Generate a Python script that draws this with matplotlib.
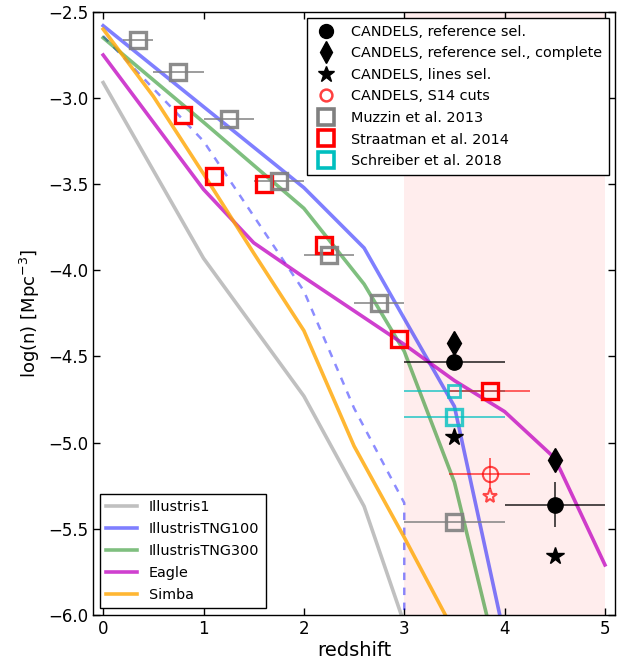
import matplotlib
matplotlib.use("Agg")
import matplotlib.pyplot as plt
from matplotlib.lines import Line2D

# --- simulation number densities (log n [Mpc^-3]) vs redshift ---
z_ill1 = [0, 1, 2, 2.6, 3]
n_ill1 = [-2.91, -3.93, -4.73, -5.37, -6.05]

z_tng100 = [0, 1, 2, 2.6, 3, 3.5, 4]
n_tng100 = [-2.58, -3.05, -3.52, -3.87, -4.28, -4.79, -6.13]

z_tng100_alt = [0, 1, 2, 2.5, 3, 3]
n_tng100_alt = [-2.64, -3.25, -4.12, -4.80, -5.35, -6.05]

z_tng300 = [0, 1, 2, 2.6, 3, 3.5, 4]
n_tng300 = [-2.65, -3.14, -3.64, -4.08, -4.47, -5.23, -6.43]

z_eagle = [0, 1, 1.5, 2, 3, 3.5, 4, 4.5, 5]
n_eagle = [-2.75, -3.53, -3.84, -4.04, -4.43, -4.64, -4.82, -5.09, -5.71]

z_simba = [0, 0.5, 1, 1.5, 2, 2.5, 3, 3.5]
n_simba = [-2.60, -2.99, -3.44, -3.90, -4.35, -5.02, -5.55, -6.10]

# --- observations ---
z_muzzin = [0.35, 0.75, 1.25, 1.75, 2.25, 2.75, 3.5]
n_muzzin = [-2.66, -2.85, -3.12, -3.48, -3.91, -4.19, -5.46]
zerr_muzzin = [0.15, 0.25, 0.25, 0.25, 0.25, 0.25, 0.5]

z_straat = [0.8, 1.1, 1.6, 2.2, 2.95]
n_straat = [-3.10, -3.45, -3.50, -3.85, -4.40]
z_straat_hi = [3.85]
n_straat_hi = [-4.70]
zerr_straat_hi = [0.4]

z_schr_a = [3.5]
n_schr_a = [-4.70]
z_schr_b = [3.5]
n_schr_b = [-4.85]
zerr_schr = [0.5]

z_cand = [3.5, 4.5]
n_cand_ref = [-4.53, -5.36]
zerr_cand = [0.5, 0.5]
nerr_cand_ref = [0.0, 0.13]
n_cand_complete = [-4.42, -5.10]
n_cand_lines = [-4.97, -5.66]

z_s14 = [3.85]
n_s14 = [-5.18]
zerr_s14 = [0.4]
nerr_s14 = [0.09]
n_s14_lines = [-5.31]

plt.rcParams["font.family"] = "DejaVu Sans"
fig = plt.figure(figsize=(6.25, 6.64), dpi=100)
ax = fig.add_axes([0.149, 0.074, 0.835, 0.908])

ax.axvspan(3, 5, color="red", alpha=0.07, lw=0)

lw = 2.6
h_ill1, = ax.plot(z_ill1, n_ill1, color="#c0c0c0", lw=lw, label="Illustris1")
h_tng100, = ax.plot(z_tng100, n_tng100, color="blue", alpha=0.5, lw=lw, label="IllustrisTNG100")
ax.plot(z_tng100_alt, n_tng100_alt, color="blue", alpha=0.45, lw=1.8, ls=(0, (3, 3)))
h_tng300, = ax.plot(z_tng300, n_tng300, color="green", alpha=0.5, lw=lw, label="IllustrisTNG300")
h_eagle, = ax.plot(z_eagle, n_eagle, color="m", alpha=0.75, lw=lw, label="Eagle")
h_simba, = ax.plot(z_simba, n_simba, color="orange", alpha=0.8, lw=lw, label="Simba")

# observational compilations
ax.errorbar(z_muzzin, n_muzzin, xerr=zerr_muzzin, fmt="s", ms=11, mfc="none",
            mec="gray", mew=2.4, ecolor="gray", elinewidth=1.2, alpha=0.9)
ax.errorbar(z_schr_a, n_schr_a, xerr=zerr_schr, fmt="s", ms=8, mfc="none",
            mec="c", mew=2.0, ecolor="c", elinewidth=1.2, alpha=0.8)
ax.errorbar(z_schr_b, n_schr_b, xerr=zerr_schr, fmt="s", ms=11, mfc="none",
            mec="c", mew=2.4, ecolor="c", elinewidth=1.2, alpha=0.8)
ax.plot(z_straat, n_straat, "s", ms=11, mfc="none", mec="red", mew=2.4)
ax.errorbar(z_straat_hi, n_straat_hi, xerr=zerr_straat_hi, fmt="s", ms=11, mfc="none",
            mec="red", mew=2.4, ecolor=(1, 0, 0, 0.7), elinewidth=1.2)

# CANDELS
ax.errorbar(z_cand, n_cand_ref, xerr=zerr_cand, yerr=nerr_cand_ref, fmt="o", ms=11,
            color="k", ecolor=(0, 0, 0, 0.75), elinewidth=1.3)
ax.plot(z_cand, n_cand_complete, "d", ms=12, color="k")
ax.plot(z_cand, n_cand_lines, "*", ms=13, color="k")
ax.errorbar(z_s14, n_s14, xerr=zerr_s14, yerr=nerr_s14, fmt="o", ms=11, mfc="none",
            mec=(1, 0, 0, 0.7), mew=1.5, ecolor=(1, 0, 0, 0.7), elinewidth=1.2)
ax.plot(z_s14, n_s14_lines, "*", ms=11, mfc="none", mec=(1, 0, 0, 0.7), mew=1.5)

ax.set_xlim(-0.1, 5.1)
ax.set_ylim(-6.0, -2.5)
ax.set_xticks([0, 1, 2, 3, 4, 5])
ax.set_yticks([-6.0, -5.5, -5.0, -4.5, -4.0, -3.5, -3.0, -2.5])
ax.tick_params(direction="in", top=True, right=True, labelsize=12, length=5, width=1)
for s in ax.spines.values():
    s.set_linewidth(1.0)
ax.set_xlabel("redshift", fontsize=14, labelpad=2)
ax.set_ylabel(r"log(n) [Mpc$^{-3}$]", fontsize=13)

# legends
obs_handles = [
    Line2D([], [], ls="none", marker="o", ms=10, color="k"),
    Line2D([], [], ls="none", marker="d", ms=11, color="k"),
    Line2D([], [], ls="none", marker="*", ms=12, color="k"),
    Line2D([], [], ls="none", marker="o", ms=8.5, mfc="none", mec=(1, 0, 0, 0.75), mew=1.8),
    Line2D([], [], ls="none", marker="s", ms=12, mfc="none", mec="gray", mew=2.6),
    Line2D([], [], ls="none", marker="s", ms=12, mfc="none", mec="red", mew=2.6),
    Line2D([], [], ls="none", marker="s", ms=12, mfc="none", mec="c", mew=2.6),
]
obs_labels = ["CANDELS, reference sel.", "CANDELS, reference sel., complete",
              "CANDELS, lines sel.", "CANDELS, S14 cuts", "Muzzin et al. 2013",
              "Straatman et al. 2014", "Schreiber et al. 2018"]
leg1 = ax.legend(obs_handles, obs_labels, loc="upper right", fontsize=10.4,
                 numpoints=1, fancybox=False, edgecolor="k", framealpha=1,
                 borderaxespad=0.45, labelspacing=0.52, handletextpad=0.8,
                 borderpad=0.45, handlelength=1.8)
leg1.get_frame().set_linewidth(1.0)
ax.add_artist(leg1)

leg2 = ax.legend([h_ill1, h_tng100, h_tng300, h_eagle, h_simba],
                 ["Illustris1", "IllustrisTNG100", "IllustrisTNG300", "Eagle", "Simba"],
                 loc="lower left", fontsize=10.4, fancybox=False, edgecolor="k",
                 framealpha=1, borderaxespad=0.45, labelspacing=0.55,
                 handlelength=2.15, handletextpad=0.8, borderpad=0.45)
leg2.get_frame().set_linewidth(1.0)

fig.savefig("out.png", dpi=100)
